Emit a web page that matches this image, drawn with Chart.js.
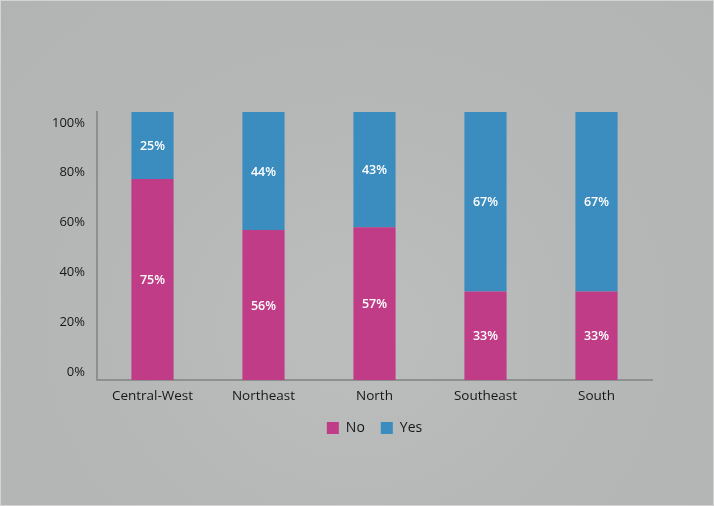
<!DOCTYPE html>
<html lang="en">
  <head>
    <meta charset="UTF-8" />
    <title>No / Yes by region</title>
    <script src="https://cdn.jsdelivr.net/npm/chart.js"></script>
    <style>
      html, body { margin: 0; padding: 0; }
      .frame {
        width: 714px;
        height: 506px;
        background: radial-gradient(ellipse at 50% 65%, #bcbebd 0%, #b6b8b7 45%, #b2b4b3 100%);
        box-shadow: inset 0 0 0 1px #d3d4d3;
      }
    </style>
  </head>
  <body>
    <div class="frame">
      <canvas id="regionChart" width="714" height="506"></canvas>
    </div>

    <script>
      const regions = ["Central-West", "Northeast", "North", "Southeast", "South"];
      const noValues = [75, 56, 57, 33, 33];
      const yesValues = [25, 44, 43, 67, 67];
      const yTicks = [0, 20, 40, 60, 80, 100];

      const pink = "#c13c87";
      const blue = "#3b8dc0";
      const fontFamily = "'Open Sans', sans-serif";
      const textColor = "#161616";

      // white % labels in the middle of each segment
      const segmentLabels = {
        id: "segmentLabels",
        afterDatasetsDraw(chart) {
          const ctx = chart.ctx;
          ctx.save();
          ctx.fillStyle = "#ffffff";
          ctx.font = "600 12.5px " + fontFamily;
          ctx.textAlign = "center";
          ctx.textBaseline = "middle";
          chart.data.datasets.forEach((ds, i) => {
            chart.getDatasetMeta(i).data.forEach((bar, j) => {
              const y = (bar.y + bar.base) / 2;
              ctx.fillText(ds.data[j] + "%", bar.x, y + 1);
            });
          });
          ctx.restore();
        },
      };

      new Chart(document.getElementById("regionChart"), {
        type: "bar",
        data: {
          labels: regions,
          datasets: [
            { label: "No", data: noValues, backgroundColor: pink },
            { label: "Yes", data: yesValues, backgroundColor: blue },
          ],
        },
        options: {
          responsive: false,
          animation: false,
          layout: { padding: { top: 112, right: 62, bottom: 61, left: 0 } },
          datasets: {
            bar: { barPercentage: 0.38, categoryPercentage: 1 },
          },
          plugins: {
            tooltip: { enabled: false },
            legend: {
              position: "bottom",
              fullSize: false,
              labels: {
                color: textColor,
                boxWidth: 12,
                boxHeight: 12,
                padding: 16,
                font: { family: fontFamily, size: 14, weight: "500" },
              },
            },
          },
          scales: {
            x: {
              stacked: true,
              grid: { display: false, drawTicks: false },
              border: { color: "#8e8f8f", width: 2 },
              afterFit: (scale) => {
                scale.height = 25;
              },
              ticks: {
                color: textColor,
                padding: 8,
                font: { family: fontFamily, size: 13.5, weight: "500" },
              },
            },
            y: {
              stacked: true,
              display: false,
              min: 0,
              max: 100,
            },
            // labels for the percentage axis, placed as in the reference
            yLabels: {
              position: "left",
              min: -3.2,
              max: 104.4,
              grid: { display: false, drawTicks: false },
              border: { color: "#8e8f8f", width: 2 },
              afterBuildTicks: (scale) => {
                scale.ticks = yTicks.map((v) => ({ value: v }));
              },
              afterFit: (scale) => {
                scale.width = 97;
              },
              ticks: {
                color: textColor,
                padding: 12,
                callback: (value) => value + "%",
                font: { family: fontFamily, size: 13, weight: "500" },
              },
            },
          },
        },
        plugins: [segmentLabels],
      });
    </script>
  </body>
</html>
